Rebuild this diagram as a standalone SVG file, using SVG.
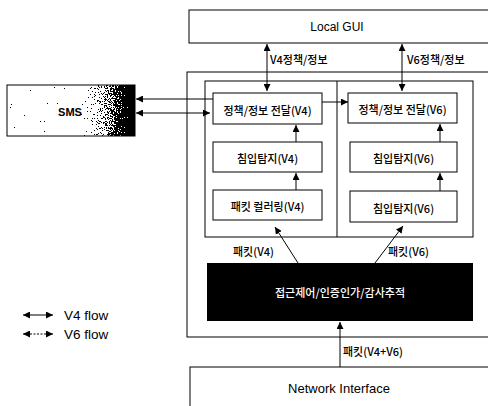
<svg xmlns="http://www.w3.org/2000/svg" width="488" height="406" viewBox="0 0 488 406">
  <defs>
    <marker id="ah" viewBox="0 0 10 10" refX="10" refY="5" markerWidth="7" markerHeight="7" markerUnits="userSpaceOnUse" orient="auto-start-reverse">
      <path d="M0,0 L10,5 L0,10 z" fill="#000"/>
    </marker>
    <linearGradient id="smsGrad" x1="0" y1="0" x2="1" y2="0">
      <stop offset="0" stop-color="#fff"/>
      <stop offset="0.57" stop-color="#fff"/>
      <stop offset="0.78" stop-color="#999"/>
      <stop offset="0.93" stop-color="#111"/>
      <stop offset="1" stop-color="#000"/>
    </linearGradient>
    <!-- stipple the shading into black/white dots -->
    <filter id="dither" x="0" y="0" width="1" height="1" color-interpolation-filters="sRGB">
      <feTurbulence type="fractalNoise" baseFrequency="1.3" numOctaves="1" seed="7" result="n"/>
      <feColorMatrix in="n" type="matrix" values="1 0 0 0 0  1 0 0 0 0  1 0 0 0 0  0 0 0 0 1" result="g"/>
      <feComposite in="SourceGraphic" in2="g" operator="arithmetic" k1="0" k2="1" k3="2" k4="-1" result="s"/>
      <feComponentTransfer in="s">
        <feFuncR type="discrete" tableValues="0 1"/>
        <feFuncG type="discrete" tableValues="0 1"/>
        <feFuncB type="discrete" tableValues="0 1"/>
      </feComponentTransfer>
    </filter>
  </defs>
  <style>
    .box { fill: #fff; stroke: #000; stroke-width: 1; }
    .ln { fill: none; stroke: #000; stroke-width: 1; }
    .lnd { fill: none; stroke: #000; stroke-width: 1; stroke-dasharray: 2 1.5; }
    text { font-family: "Noto Sans CJK KR", "DejaVu Sans", sans-serif; font-size: 11px; font-weight: 500; fill: #000; }
    .lbl { font-family: "Liberation Sans", "Noto Sans CJK KR", sans-serif; font-size: 12px; font-weight: normal; }
    .mid { text-anchor: middle; dominant-baseline: central; }
  </style>

  <rect width="488" height="406" fill="#fff"/>

  <!-- Local GUI -->
  <g id="local-gui">
    <rect class="box" x="189" y="10" width="320" height="33"/>
    <text class="lbl mid" x="337" y="27">Local GUI</text>
  </g>

  <!-- Main system container and its two sections -->
  <g id="system">
    <rect class="box" x="187" y="72" width="320" height="265"/>
    <rect class="box" x="205" y="81" width="268" height="156"/>
    <line class="ln" x1="337" y1="81" x2="337" y2="237"/>
  </g>

  <!-- SMS -->
  <g id="sms">
    <rect x="7" y="85" width="128" height="51" fill="url(#smsGrad)" filter="url(#dither)"/>
    <rect x="7" y="85" width="128" height="51" fill="none" stroke="#000" stroke-width="1"/>
    <text class="lbl mid" x="70" y="112" style="font-size:11px;font-weight:bold">SMS</text>
  </g>

  <!-- V4 section -->
  <g id="policy-v4">
    <rect class="box" x="213" y="93" width="109" height="31"/>
    <text class="mid" x="267.5" y="110">정책/정보 전달(V4)</text>
  </g>
  <g id="ids-v4">
    <rect class="box" x="213" y="142" width="109" height="30"/>
    <text class="mid" x="267.5" y="158">침입탐지(V4)</text>
  </g>
  <g id="filter-v4">
    <rect class="box" x="213" y="190" width="109" height="30"/>
    <text class="mid" x="267.5" y="206">패킷 컬러링(V4)</text>
  </g>

  <!-- V6 section -->
  <g id="policy-v6">
    <rect class="box" x="348" y="93" width="109" height="30"/>
    <text class="mid" x="402.5" y="109">정책/정보 전달(V6)</text>
  </g>
  <g id="ids-v6-upper">
    <rect class="box" x="350" y="142" width="107" height="30"/>
    <text class="mid" x="403.5" y="158">침입탐지(V6)</text>
  </g>
  <g id="ids-v6-lower">
    <rect class="box" x="350" y="191" width="107" height="31"/>
    <text class="mid" x="403.5" y="207.5">침입탐지(V6)</text>
  </g>

  <!-- Access control block -->
  <g id="access-control">
    <rect x="207" y="263" width="266" height="58" fill="#000"/>
    <text class="mid" x="340" y="292" style="fill:#fff">접근제어/인증인가/감사추적</text>
  </g>

  <!-- Network Interface -->
  <g id="network-interface">
    <rect class="box" x="190" y="367" width="320" height="50"/>
    <text class="lbl mid" x="339" y="388" style="font-size:13px">Network Interface</text>
  </g>

  <!-- Connectors -->
  <g id="connectors">
    <!-- Local GUI <-> policy modules -->
    <line class="ln" x1="267" y1="44" x2="267" y2="91" marker-start="url(#ah)" marker-end="url(#ah)"/>
    <line class="ln" x1="402" y1="44" x2="402" y2="91" marker-start="url(#ah)" marker-end="url(#ah)"/>
    <!-- SMS links -->
    <line class="ln" x1="213" y1="99" x2="136" y2="99" marker-end="url(#ah)"/>
    <line class="ln" x1="136" y1="113" x2="210" y2="113" marker-start="url(#ah)" marker-end="url(#ah)"/>
    <!-- V4 policy to V6 policy -->
    <line class="ln" x1="322" y1="102" x2="348" y2="102" marker-end="url(#ah)"/>
    <!-- internal upward flows -->
    <line class="ln" x1="296" y1="142" x2="296" y2="125" marker-end="url(#ah)"/>
    <line class="ln" x1="296" y1="190" x2="296" y2="173" marker-end="url(#ah)"/>
    <line class="ln" x1="440" y1="142" x2="440" y2="124" marker-end="url(#ah)"/>
    <line class="ln" x1="440" y1="191" x2="440" y2="173" marker-end="url(#ah)"/>
    <!-- packets from access control -->
    <line class="ln" x1="298" y1="263" x2="275" y2="227" marker-end="url(#ah)"/>
    <line class="ln" x1="375" y1="263" x2="403" y2="226" marker-end="url(#ah)"/>
    <!-- network interface to access control -->
    <line class="ln" x1="340" y1="367" x2="340" y2="322" marker-end="url(#ah)"/>
  </g>

  <!-- Connector labels -->
  <g id="connector-labels">
    <text x="270" y="64">V4정책/정보</text>
    <text x="407" y="64">V6정책/정보</text>
    <text x="233" y="256">패킷(V4)</text>
    <text x="388" y="256">패킷(V6)</text>
    <text x="343" y="356">패킷(V4+V6)</text>
  </g>

  <!-- Legend -->
  <g id="legend">
    <line class="ln" x1="23" y1="315" x2="53" y2="315" marker-start="url(#ah)" marker-end="url(#ah)"/>
    <text class="lbl" x="64" y="319.5" style="font-size:13.5px">V4 flow</text>
    <line class="lnd" x1="23" y1="334" x2="53" y2="334" marker-start="url(#ah)" marker-end="url(#ah)"/>
    <text class="lbl" x="64" y="338.5" style="font-size:13.5px">V6 flow</text>
  </g>
</svg>
